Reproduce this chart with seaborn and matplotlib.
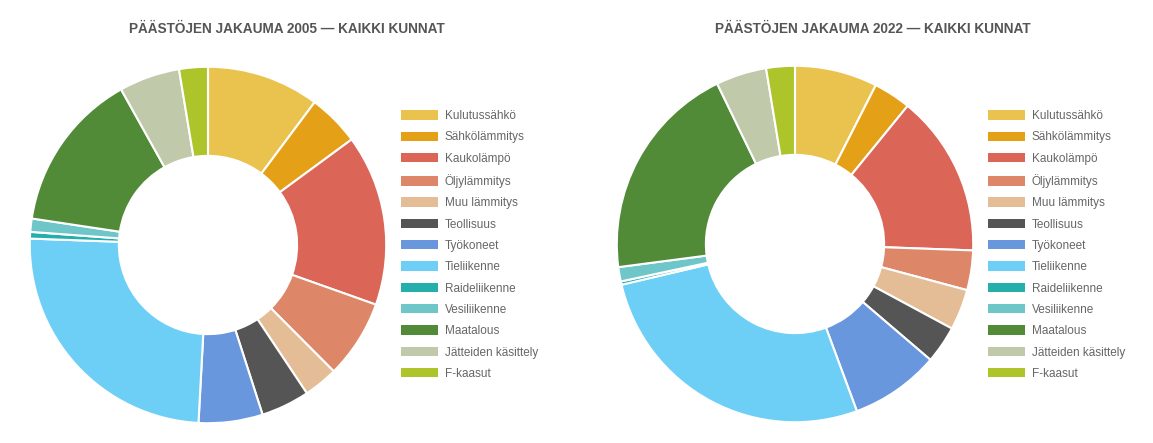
import matplotlib; matplotlib.use('Agg')
import numpy as np
import matplotlib.pyplot as plt
import seaborn as sns

categories = ['Kulutussähkö', 'Sähkölämmitys', 'Kaukolämpö', 'Öljylämmitys', 'Muu lämmitys',
              'Teollisuus', 'Työkoneet', 'Tieliikenne', 'Raideliikenne', 'Vesiliikenne',
              'Maatalous', 'Jätteiden käsittely', 'F-kaasut']

# shares (%)
share_2005 = [10.2, 4.7, 15.5, 7.1, 3.1, 4.4, 5.8, 24.7, 0.6, 1.2, 14.5, 5.5, 2.6]
share_2022 = [7.5, 3.4, 14.7, 3.6, 3.7, 3.4, 8.1, 27.0, 0.3, 1.3, 19.9, 4.6, 2.6]

colors = ['#EAC34F', '#E4A117', '#DB6658', '#DE8768', '#E4BD96', '#555555', '#6897DE',
          '#6ECFF6', '#24AEAC', '#6FC6C8', '#518B37', '#C1C9AB', '#AEC42B']

titles = ['PÄÄSTÖJEN JAKAUMA 2005 — KAIKKI KUNNAT', 'PÄÄSTÖJEN JAKAUMA 2022 — KAIKKI KUNNAT']

sns.set_theme(style='white')
plt.rcParams['font.family'] = ['Liberation Sans', 'DejaVu Sans']
palette = sns.color_palette(colors)

W, H = 1153, 443
fig = plt.figure(figsize=(W / 100, H / 100), dpi=100)
fig.patch.set_facecolor('white')

panels = [
    # donut centre x, centre y, radius, legend x, title centre x
    (208, 245, 180, 401, 287),
    (795, 244, 180, 988, 873),
]

for (cx, cy, r, lx, tx), shares, title in zip(panels, [share_2005, share_2022], titles):
    ax = fig.add_axes([(cx - r) / W, (H - cy - r) / H, 2 * r / W, 2 * r / H])
    wedges, _ = ax.pie(shares, colors=palette, startangle=90, counterclock=False,
                       radius=1, wedgeprops=dict(width=0.5, edgecolor='white', linewidth=1.5))
    ax.set_xlim(-1.01, 1.01)
    ax.set_ylim(-1.01, 1.01)
    ax.set_aspect('equal')
    ax.axis('off')

    leg = ax.legend(wedges, categories, loc='upper left',
                    bbox_to_anchor=(lx / W, (H - 110) / H), bbox_transform=fig.transFigure,
                    frameon=False, fontsize=8.5, handlelength=3.1, handleheight=0.85,
                    handletextpad=0.6, labelspacing=0.79, borderpad=0, borderaxespad=0)
    for t in leg.get_texts():
        t.set_color('#666666')
    for h in leg.legend_handles:
        h.set_linewidth(0)

    fig.text(tx / W, (H - 29) / H, title, ha='center', va='center',
             fontsize=9.8, fontweight='bold', color='#555555')

fig.savefig('out.png', dpi=100, facecolor='white')
